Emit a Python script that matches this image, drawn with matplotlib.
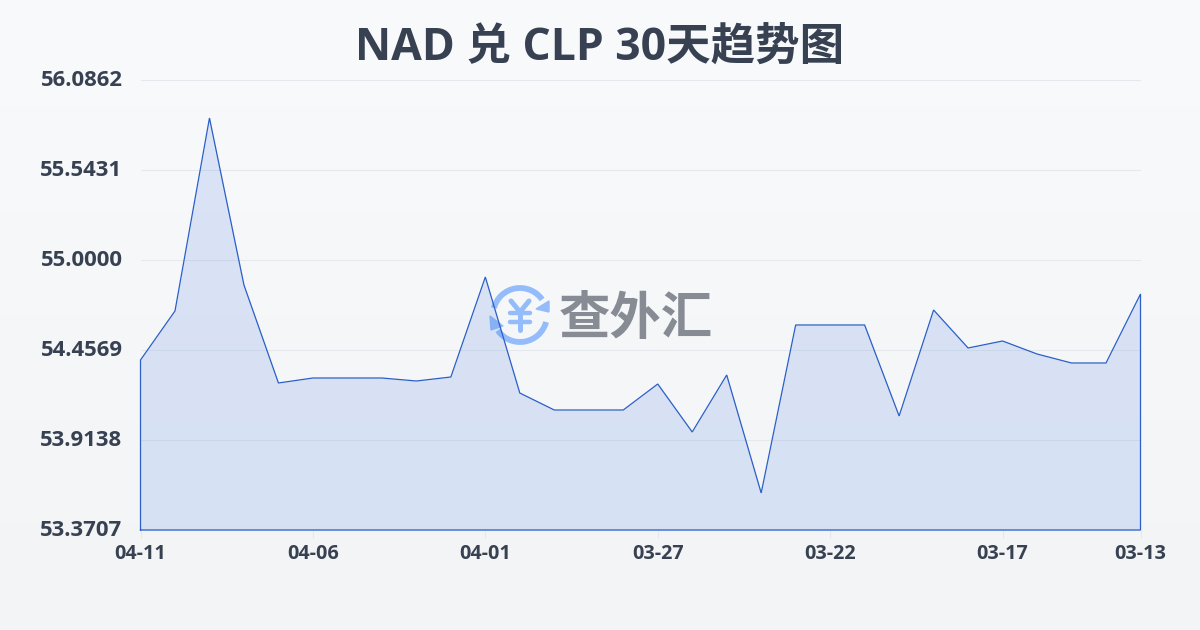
import numpy as np
import matplotlib
matplotlib.use('Agg')
from matplotlib import pyplot as plt
from matplotlib.patches import Arc, Polygon
from matplotlib.transforms import ScaledTranslation

plt.rcParams['font.family'] = ['Open Sans', 'Noto Sans CJK SC', 'DejaVu Sans']

title = 'NAD 兑 CLP 30天趋势图'
y_ticks = [53.3707, 53.9138, 54.4569, 55.0000, 55.5431, 56.0862]
y_labels = ['53.3707', '53.9138', '54.4569', '55.0000', '55.5431', '56.0862']
x_ticks = [0, 5, 10, 15, 20, 25, 29]
x_labels = ['04-11', '04-06', '04-01', '03-27', '03-22', '03-17', '03-13']
rates = [54.3966, 54.6923, 55.8569, 54.8491, 54.2578, 54.2879, 54.2879, 54.2879,
         54.2698, 54.2940, 54.8974, 54.1974, 54.0948, 54.0948, 54.0948, 54.2517,
         53.9621, 54.3061, 53.5940, 54.6078, 54.6078, 54.6078, 54.0586, 54.6983,
         54.4690, 54.5112, 54.4328, 54.3785, 54.3785, 54.7948]

W, H = 1200, 630
dark = '#374151'
blue = '#2b5fc7'
logo_blue = '#94bcfa'

fig = plt.figure(figsize=(W / 100, H / 100), dpi=100)

# 背景グラデーション + ロゴ (ピクセル座標)
bg = fig.add_axes([0, 0, 1, 1], zorder=0)
grad = np.linspace(0, 1, 256).reshape(-1, 1)
top = np.array([0xf8, 0xfa, 0xfc]) / 255
bottom = np.array([0xf2, 0xf4, 0xf6]) / 255
bg.imshow(top + (bottom - top) * grad[..., None], aspect='auto', extent=[0, W, H, 0])
bg.set_xlim(0, W)
bg.set_ylim(H, 0)
bg.axis('off')

cx, cy, r = 520, 315, 27
bg.add_patch(Arc((cx, cy), 2 * r, 2 * r, theta1=195, theta2=325, lw=4.2, color=logo_blue))
bg.add_patch(Arc((cx, cy), 2 * r, 2 * r, theta1=15, theta2=145, lw=4.2, color=logo_blue))
bg.add_patch(Polygon([[549, 301], [549, 312], [536, 309]], color=logo_blue))
bg.add_patch(Polygon([[490, 316], [491, 330], [503, 326]], color=logo_blue))
bg.plot([cx - 9, cx, cx + 9], [cy - 14, cy - 3, cy - 14], color=logo_blue, lw=3.6, solid_capstyle='round')
bg.plot([cx, cx], [cy - 3, cy + 15], color=logo_blue, lw=3.6, solid_capstyle='round')
bg.plot([cx - 10, cx + 10], [cy - 2, cy - 2], color=logo_blue, lw=3.2, solid_capstyle='round')
bg.plot([cx - 10, cx + 10], [cy + 7, cy + 7], color=logo_blue, lw=3.2, solid_capstyle='round')
bg.text(636, 321, '查外汇', color='#868b94', fontsize=37, fontweight='bold', ha='center', va='center')

# グラフ本体
ax = fig.add_axes([140.5 / W, 1 - 530 / H, 1000 / W, 450 / H], zorder=1)
ax.patch.set_alpha(0)
x = np.arange(len(rates))
ax.fill_between(x, rates, y_ticks[0], color='#4a7fe0', alpha=0.17, lw=0)
ax.plot(np.r_[x[0], x, x[-1], x[0]], np.r_[y_ticks[0], rates, y_ticks[0], y_ticks[0]],
        color=blue, lw=0.9, solid_joinstyle='miter', clip_on=False)

ax.set_xlim(0, len(rates) - 1)
ax.set_ylim(y_ticks[0], y_ticks[-1])
ax.set_yticks(y_ticks)
ax.set_yticklabels(y_labels, fontsize=15.9, fontweight='bold', color=dark)
ax.set_xticks(x_ticks)
ax.set_xticklabels(x_labels, fontsize=14.2, fontweight='bold', color=dark)
ax.grid(axis='y', color='#e5e8ed', lw=0.8)
ax.set_axisbelow(True)
ax.tick_params(axis='y', length=0, pad=13)
ax.tick_params(axis='x', length=6, width=0.8, color='#e5e8ed', pad=4)
for s in ax.spines.values():
    s.set_visible(False)

# 目盛ラベルを少し上へ
up = ScaledTranslation(0, 2 / 100, fig.dpi_scale_trans)
for lab in ax.get_yticklabels():
    lab.set_transform(lab.get_transform() + up)

fig.text(0.5, 1 - 48 / H, title, fontsize=32, fontweight='bold', color=dark, ha='center', va='center')

fig.savefig('out.png', dpi=100)
plt.close()
